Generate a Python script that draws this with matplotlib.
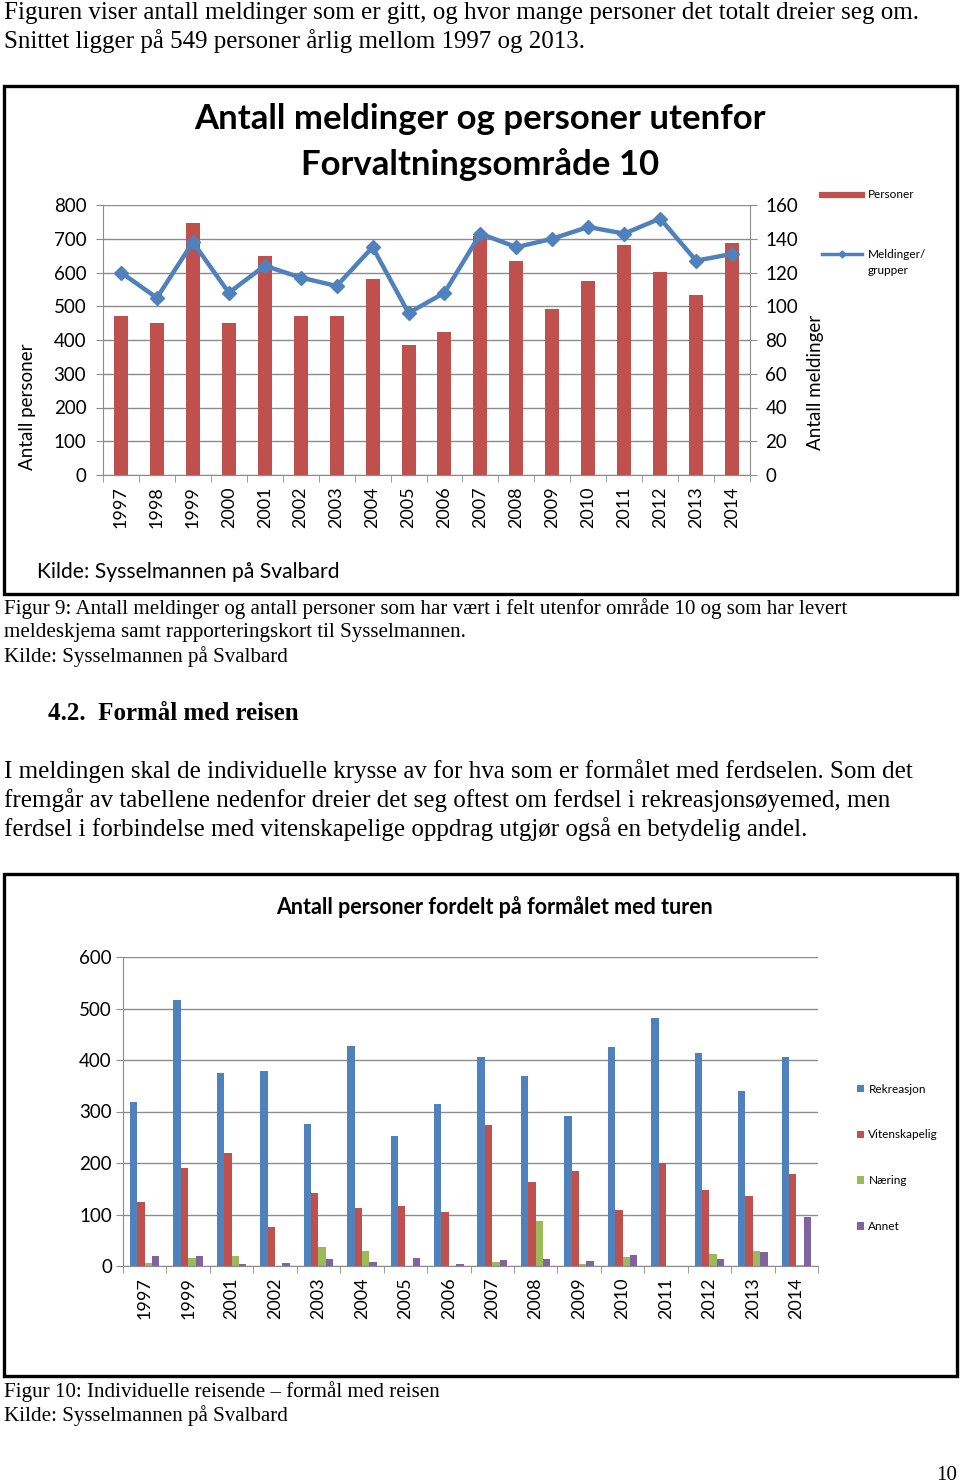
import numpy as np
import matplotlib
matplotlib.use("Agg")
import matplotlib.pyplot as plt
from matplotlib.lines import Line2D
from matplotlib.patches import Rectangle

# ── Data ──────────────────────────────────────────────────────────────────
years1 = [str(y) for y in range(1997, 2015)]
personer = [472, 450, 747, 449, 648, 472, 472, 581, 386, 424,
            708, 634, 493, 576, 682, 601, 534, 687]
meldinger = [120, 105, 138, 108, 124, 117, 112, 135, 96, 108,
             143, 135, 140, 147, 143, 152, 127, 131]

years2 = ["1997", "1999", "2001", "2002", "2003", "2004", "2005", "2006",
          "2007", "2008", "2009", "2010", "2011", "2012", "2013", "2014"]
rekreasjon = [319, 517, 374, 379, 276, 427, 252, 315,
              405, 368, 292, 425, 482, 414, 340, 405]
vitenskapelig = [124, 191, 220, 75, 141, 113, 117, 104,
                 274, 163, 184, 108, 200, 148, 136, 178]
naering = [5, 16, 19, 0, 36, 29, 0, 0,
           7, 87, 4, 18, 0, 23, 30, 1]
annet = [19, 20, 3, 5, 14, 8, 16, 3,
         11, 14, 9, 21, 0, 14, 27, 95]
series2 = ["Rekreasjon", "Vitenskapelig", "Næring", "Annet"]

# ── Styles ────────────────────────────────────────────────────────────────
W, H = 960, 1484
RED, BLUE, GREEN, PURPLE = "#C0504D", "#4F81BD", "#9BBB59", "#8064A2"
GRID = "#8C8C8C"
SANS = ["Lato", "DejaVu Sans"]
SERIF = ["Liberation Serif", "DejaVu Serif"]

fig = plt.figure(figsize=(W / 100, H / 100), dpi=100)
fig.patch.set_facecolor("white")


def rect(x0, y0, x1, y1):
    return [x0 / W, 1 - y1 / H, (x1 - x0) / W, (y1 - y0) / H]


def ftext(x, y, s, **kw):
    kw.setdefault("va", "center")
    fig.text(x / W, 1 - y / H, s, **kw)


def box(x0, y0, x1, y1):
    fig.add_artist(Rectangle((x0 / W, 1 - y1 / H), (x1 - x0) / W, (y1 - y0) / H,
                             transform=fig.transFigure, fill=False,
                             edgecolor="black", linewidth=2.4))


def style_axis(ax, ypad=7):
    for s in ["top", "right"]:
        ax.spines[s].set_visible(False)
    for s in ["left", "bottom"]:
        ax.spines[s].set_color(GRID)
    ax.grid(axis="y", color=GRID, linewidth=1.0)
    ax.set_axisbelow(True)
    ax.tick_params(axis="y", length=5, color=GRID, direction="out", pad=ypad,
                   labelsize=13.5)
    ax.tick_params(axis="x", which="major", length=0, pad=8, labelsize=13)
    ax.tick_params(axis="x", which="minor", length=5, color=GRID, direction="out")
    for lbl in ax.get_yticklabels() + ax.get_xticklabels():
        lbl.set_family(SANS)


# ── Page text ─────────────────────────────────────────────────────────────
ftext(4, 13, "Figuren viser antall meldinger som er gitt, og hvor mange personer det totalt dreier seg om.",
      family=SERIF, fontsize=18)
ftext(4, 41, "Snittet ligger på 549 personer årlig mellom 1997 og 2013.",
      family=SERIF, fontsize=18)

# ── Chart 1 ───────────────────────────────────────────────────────────────
box(4, 86, 957, 594)
ftext(480, 119, "Antall meldinger og personer utenfor", ha="center",
      family=SANS, fontsize=25, fontweight="bold")
ftext(480, 165, "Forvaltningsområde 10", ha="center",
      family=SANS, fontsize=25, fontweight="bold")

ax1 = fig.add_axes(rect(103, 205, 750, 475))
x1 = np.arange(len(years1))
ax1.bar(x1, personer, width=0.39, color=RED, zorder=2)
ax1.set_xlim(-0.5, len(years1) - 0.5)
ax1.set_ylim(0, 800)
ax1.set_yticks(range(0, 801, 100))
ax1.set_xticks(x1)
ax1.set_xticklabels(years1, rotation=90)
ax1.set_xticks(np.arange(-0.5, len(years1)), minor=True)
style_axis(ax1)

ax1r = ax1.twinx()
ax1r.plot(x1, meldinger, color=BLUE, linewidth=3.2, marker="D",
          markersize=7.5, zorder=3)
ax1r.set_ylim(0, 160)
ax1r.set_yticks(range(0, 161, 20))
for s in ["top", "left", "bottom"]:
    ax1r.spines[s].set_visible(False)
ax1r.spines["right"].set_color(GRID)
ax1r.tick_params(axis="y", length=5, color=GRID, direction="out", pad=6,
                 labelsize=13.5)
for lbl in ax1r.get_yticklabels():
    lbl.set_family(SANS)

ftext(28, 407, "Antall personer", rotation=90, ha="center",
      family=SANS, fontsize=13.5)
ftext(815, 382, "Antall meldinger", rotation=90, ha="center",
      family=SANS, fontsize=13.5)

# legend (drawn by hand to match the Excel layout)
fig.add_artist(Line2D([822 / W, 862 / W], [1 - 195 / H] * 2, color=RED,
                      linewidth=4.5, transform=fig.transFigure))
ftext(868, 195, "Personer", family=SANS, fontsize=8.5)
fig.add_artist(Line2D([822 / W, 862 / W], [1 - 254 / H] * 2, color=BLUE,
                      linewidth=2.5, transform=fig.transFigure))
fig.add_artist(Line2D([842 / W], [1 - 254 / H], color=BLUE, marker="D",
                      markersize=3.5, transform=fig.transFigure))
ftext(868, 254, "Meldinger/", family=SANS, fontsize=8.5)
ftext(868, 271, "grupper", family=SANS, fontsize=8.5)

ftext(37, 572, "Kilde: Sysselmannen på Svalbard", family=SANS, fontsize=15.2)

# ── Captions / body text ──────────────────────────────────────────────────
ftext(4, 609, "Figur 9: Antall meldinger og antall personer som har vært i felt utenfor område 10 og som har levert",
      family=SERIF, fontsize=15.1)
ftext(4, 633, "meldeskjema samt rapporteringskort til Sysselmannen.",
      family=SERIF, fontsize=15.1)
ftext(4, 657, "Kilde: Sysselmannen på Svalbard", family=SERIF, fontsize=15.1)

ftext(48, 713, "4.2.  Formål med reisen", family=SERIF, fontsize=18,
      fontweight="bold")

ftext(4, 771, "I meldingen skal de individuelle krysse av for hva som er formålet med ferdselen. Som det",
      family=SERIF, fontsize=18)
ftext(4, 800, "fremgår av tabellene nedenfor dreier det seg oftest om ferdsel i rekreasjonsøyemed, men",
      family=SERIF, fontsize=18)
ftext(4, 829, "ferdsel i forbindelse med vitenskapelige oppdrag utgjør også en betydelig andel.",
      family=SERIF, fontsize=18)

# ── Chart 2 ───────────────────────────────────────────────────────────────
box(4, 874, 957, 1376)
ftext(495, 907, "Antall personer fordelt på formålet med turen", ha="center",
      family=SANS, fontsize=15.5, fontweight="bold")

ax2 = fig.add_axes(rect(123, 957, 818, 1266))
x2 = np.arange(len(years2))
bw = 0.17
for i, (vals, col, name) in enumerate(zip([rekreasjon, vitenskapelig, naering, annet],
                                          [BLUE, RED, GREEN, PURPLE], series2)):
    ax2.bar(x2 + (i - 1.5) * bw, vals, width=bw, color=col, label=name, zorder=2)
ax2.set_xlim(-0.5, len(years2) - 0.5)
ax2.set_ylim(0, 600)
ax2.set_yticks(range(0, 601, 100))
ax2.set_xticks(x2)
ax2.set_xticklabels(years2, rotation=90)
ax2.set_xticks(np.arange(-0.5, len(years2)), minor=True)
style_axis(ax2, ypad=3)

fig.legend(*ax2.get_legend_handles_labels(), loc="upper left",
           bbox_to_anchor=(846 / W, 1 - 1073 / H), frameon=False,
           handlelength=0.6, handleheight=0.6, handletextpad=0.4,
           labelspacing=2.95, prop={"family": SANS, "size": 8.5})

ftext(4, 1392, "Figur 10: Individuelle reisende – formål med reisen",
      family=SERIF, fontsize=15.1)
ftext(4, 1416, "Kilde: Sysselmannen på Svalbard", family=SERIF, fontsize=15.1)
ftext(957, 1475, "10", ha="right", family=SERIF, fontsize=15.1)

fig.savefig("out.png", dpi=100, facecolor="white")
